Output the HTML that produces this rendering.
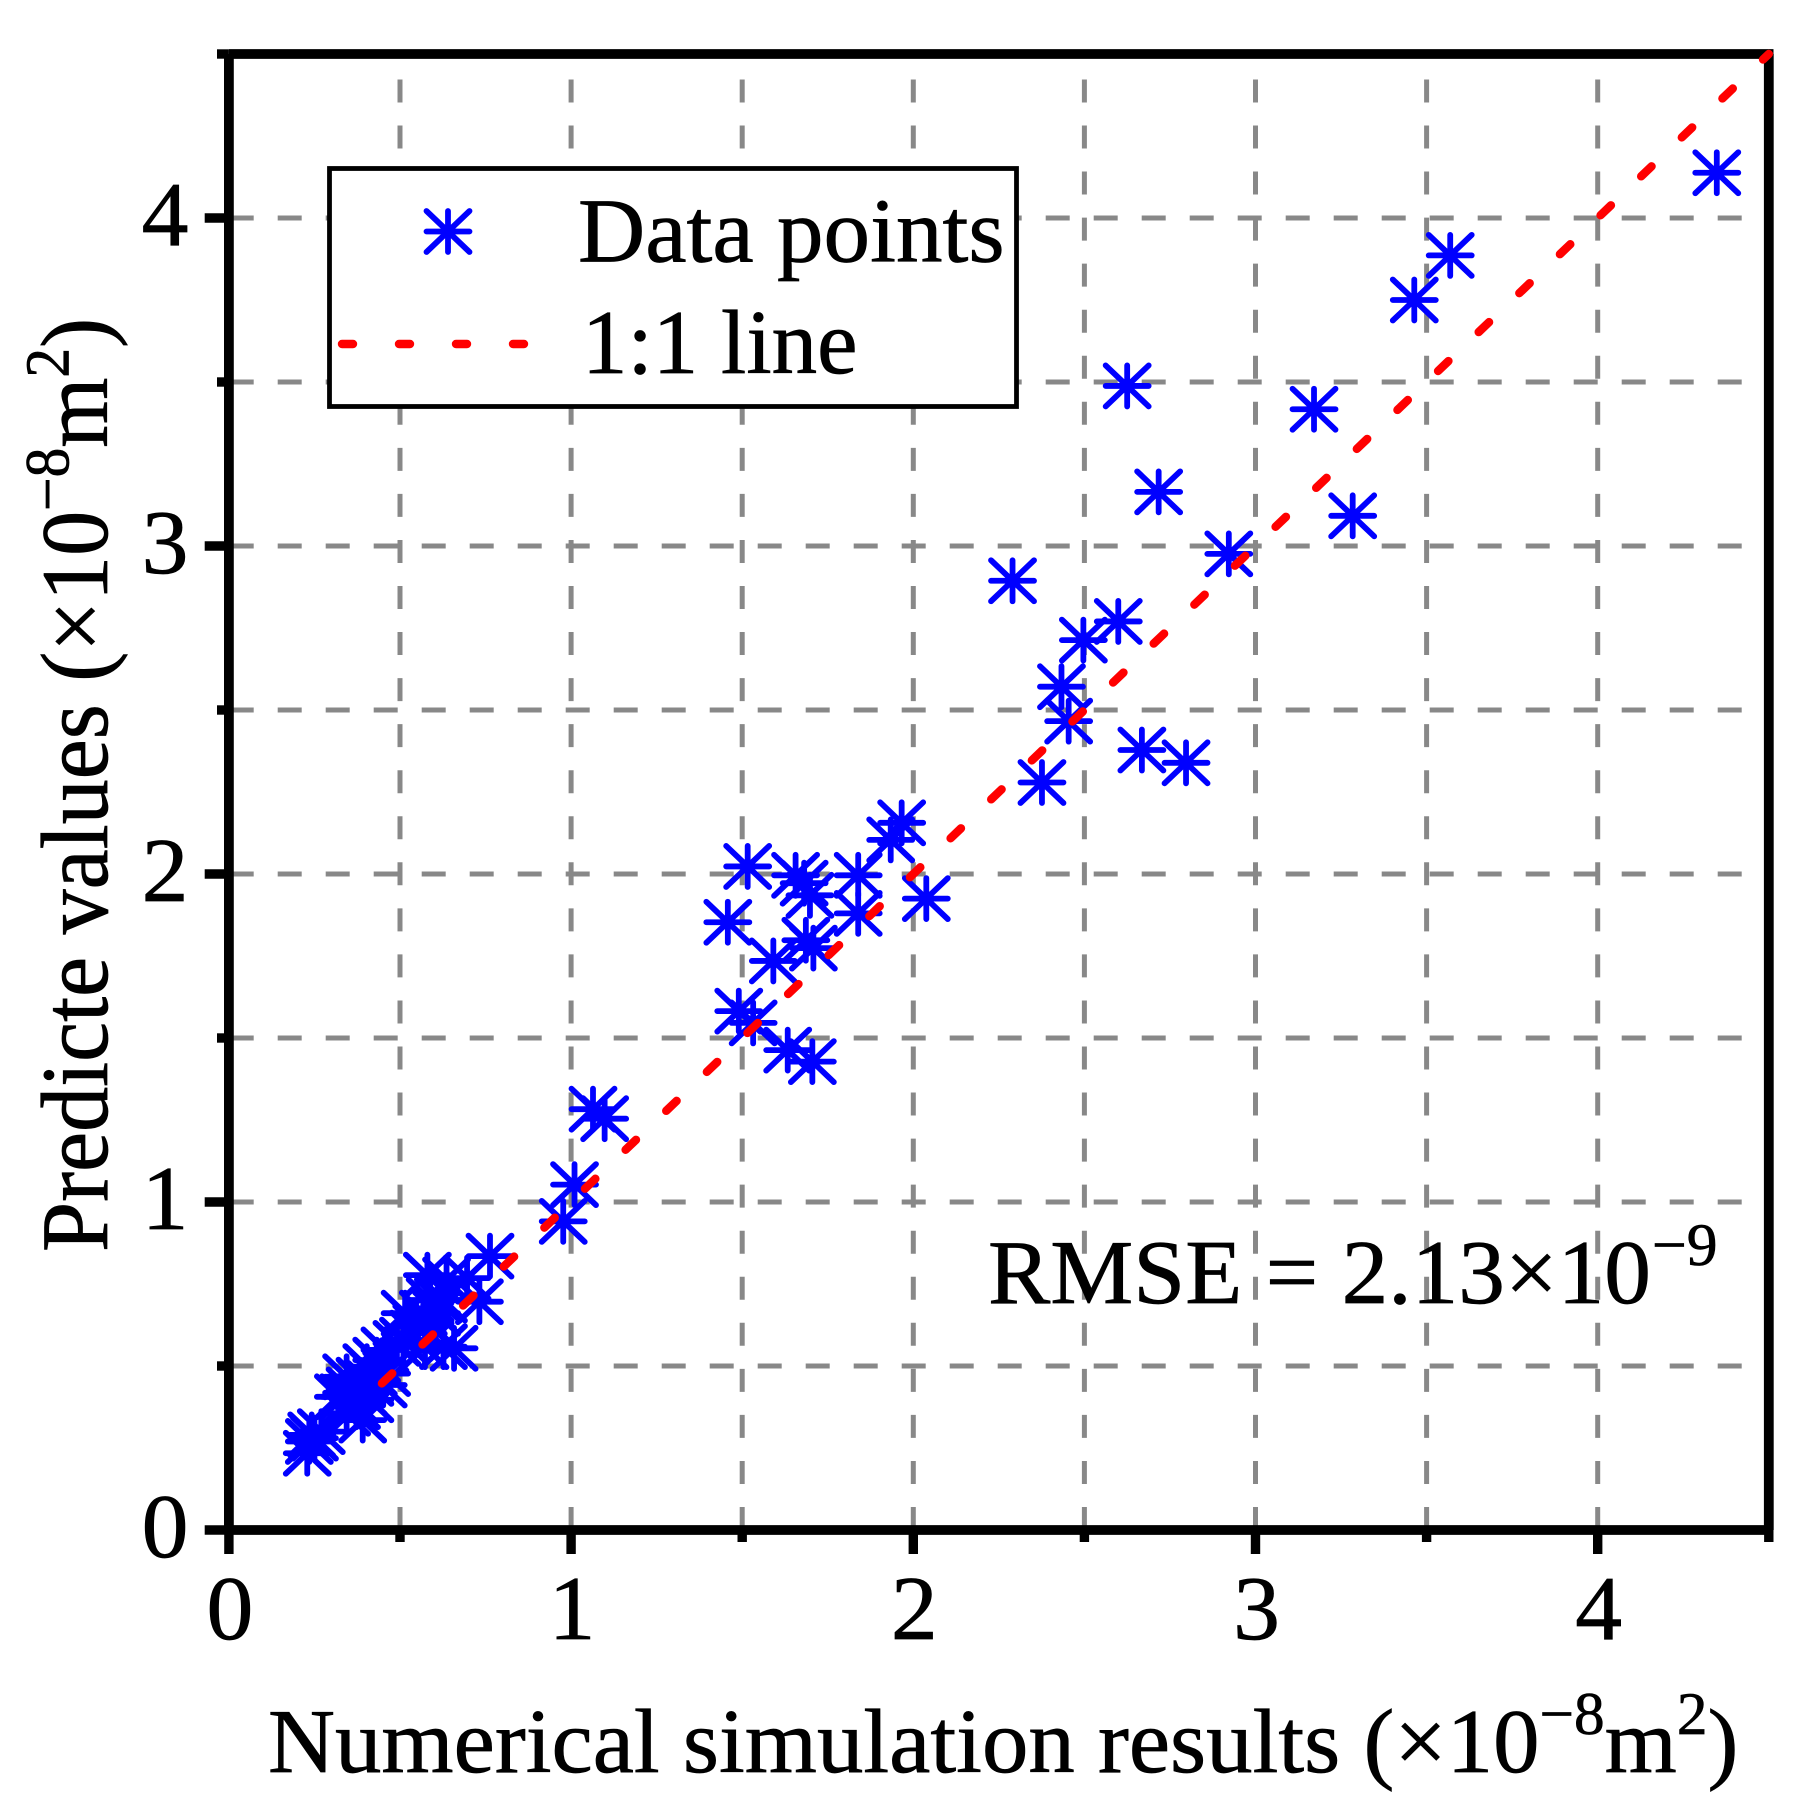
<!DOCTYPE html>
<html lang="en">
<head>
<meta charset="utf-8">
<title>Predicted values vs numerical simulation results</title>
<style>
html,body{margin:0;padding:0;background:#fff;}
svg{display:block;}
text{font-family:"Liberation Serif",serif;fill:#000;stroke:#000;stroke-width:0.7px;}
</style>
</head>
<body>
<svg id="chart" xmlns="http://www.w3.org/2000/svg" width="1818" height="1818" viewBox="0 0 1818 1818">
<rect x="0" y="0" width="1818" height="1818" fill="#fff"/>
<g id="grid"></g>
<g id="axes"></g>
<g id="points"></g>
<g id="fitline"></g>
<g id="labels"></g>

<text transform="translate(268,1772) scale(1.02,1)" font-size="91">Numerical simulation results (×10<tspan font-size="60" dy="-38">−8</tspan><tspan dy="38">m</tspan><tspan font-size="60" dy="-38">2</tspan><tspan dy="38">)</tspan></text>
<text transform="translate(107,1252) rotate(-90) scale(0.99,1.045)" font-size="91">Predicte values (×10<tspan font-size="60" dy="-37">−8</tspan><tspan dy="37">m</tspan><tspan font-size="60" dy="-37">2</tspan><tspan dy="37">)</tspan></text>
<text transform="translate(988,1303) scale(1.026,1)" font-size="91">RMSE = 2.13×10<tspan font-size="60" dy="-38" dx="1">−9</tspan></text>

<g>
  <rect x="329.5" y="168.5" width="687" height="238" fill="#fff" stroke="#000" stroke-width="4.8"/>
  <path transform="translate(448,231.5)" d="M-21.5 0H21.5M0 -20.5V20.5M-21.5 -20.5L21.5 20.5M-21.5 20.5L21.5 -20.5" fill="none" stroke="#0000ff" stroke-width="5.8" stroke-linecap="round"/>
  <text transform="translate(578,261.5) scale(1.023,1)" font-size="91">Data points</text>
  <line x1="342" y1="344" x2="526" y2="344" stroke="#ff0000" stroke-width="8.4" stroke-linecap="round" stroke-dasharray="11 46"/>
  <text transform="translate(582,373) scale(1.0,1)" font-size="91">1:1 line</text>
</g>
</svg>
<script>
var xTickMajor = [0, 1, 2, 3, 4];
var xTickMinor = [0.5, 1.5, 2.5, 3.5, 4.5];
var yTickMajor = [0, 1, 2, 3, 4];
var yTickMinor = [0.5, 1.5, 2.5, 3.5, 4.5];
var xTickLabels = ["0", "1", "2", "3", "4"];
var yTickLabels = ["0", "1", "2", "3", "4"];
var gridValuesX = [0.5, 1, 1.5, 2, 2.5, 3, 3.5, 4];
var gridValuesY = [0.5, 1, 1.5, 2, 2.5, 3, 3.5, 4];
var lineX = [0.447, 4.5];
var lineY = [0.447, 4.5];
var pointsX = [4.348,3.569,3.464,2.625,3.171,2.717,3.284,2.922,2.29,2.599,2.497,2.433,2.454,2.668,2.797,2.376,
  1.966,1.934,1.516,1.656,1.681,1.698,1.839,1.839,2.038,1.458,1.591,1.686,1.708,1.49,1.532,1.633,1.705,
  1.064,1.098,1.01,0.977,0.763,0.732,0.696,0.636,0.58,0.612,0.658,0.573,0.627,
  0.515,0.549,0.588,0.539,0.568,0.491,0.51,0.607,0.588,0.627,
  0.456,0.451,0.461,0.344,0.32,0.391,0.373,0.344,0.412,0.393,0.364,0.422,0.432,0.403,0.383,0.335,0.412,0.354,
  0.229,0.242,0.235,0.25,0.27];
var pointsY = [4.138,3.886,3.75,3.488,3.417,3.165,3.092,2.976,2.894,2.77,2.713,2.571,2.466,2.378,2.339,2.279,
  2.156,2.104,2.023,1.996,1.972,1.935,1.996,1.88,1.925,1.853,1.735,1.798,1.774,1.582,1.546,1.463,1.428,
  1.283,1.254,1.053,0.941,0.835,0.696,0.768,0.762,0.777,0.701,0.554,0.559,0.559,
  0.661,0.62,0.63,0.6,0.661,0.569,0.579,0.661,0.701,0.701,
  0.549,0.442,0.477,0.467,0.406,0.335,0.376,0.356,0.447,0.417,0.397,0.478,0.518,0.498,0.457,0.406,0.397,0.427,
  0.234,0.29,0.27,0.28,0.3];

var SVG_NS = "http://www.w3.org/2000/svg";
function sx(v) { return 228.9 + v * 342.2; }
function sy(v) { return 1530 - v * 328; }
function make(parent, tag, attrs) {
  var el = document.createElementNS(SVG_NS, tag);
  for (var k in attrs) { el.setAttribute(k, attrs[k]); }
  parent.appendChild(el);
  return el;
}
var gridG = document.getElementById("grid");
var axesG = document.getElementById("axes");
var pointsG = document.getElementById("points");
var lineG = document.getElementById("fitline");
var labelsG = document.getElementById("labels");

gridValuesY.forEach(function (v) {
  var el = make(gridG, "line", {x1: sx(0) + 0.8, y1: sy(v), x2: sx(4.5) - 4, y2: sy(v), stroke: "#888888", "stroke-width": 5, "stroke-dasharray": "24 24"});
  
  
});
gridValuesX.forEach(function (v) {
  var el = make(gridG, "line", {x1: sx(v), y1: sy(0), x2: sx(v), y2: sy(4.5) + 4, stroke: "#888888", "stroke-width": 5, "stroke-dasharray": "23 23.05"});
  
  
});

var spineL = make(axesG, "line", {x1: sx(0), y1: sy(4.5), x2: sx(0), y2: sy(0), stroke: "#000", "stroke-width": 9.8});


var spineB = make(axesG, "line", {x1: sx(0), y1: sy(0), x2: sx(4.5), y2: sy(0), stroke: "#000", "stroke-width": 9.8});


var spineT = make(axesG, "line", {x1: sx(0), y1: sy(4.5), x2: sx(4.5) + 4.7, y2: sy(4.5), stroke: "#000", "stroke-width": 9.8});


var spineR = make(axesG, "line", {x1: sx(4.5), y1: sy(4.5), x2: sx(4.5), y2: sy(0), stroke: "#000", "stroke-width": 9.8});



xTickMajor.forEach(function (v) {
  var el = make(axesG, "line", {x1: sx(v), y1: sy(0), x2: sx(v), y2: 1554, stroke: "#000", "stroke-width": 9.4});
  
  
});
xTickMinor.forEach(function (v) {
  var el = make(axesG, "line", {x1: sx(v), y1: sy(0), x2: sx(v), y2: 1542, stroke: "#000", "stroke-width": 9.4});
  
  
});
yTickMajor.forEach(function (v) {
  var el = make(axesG, "line", {x1: sx(0), y1: sy(v), x2: 204.7, y2: sy(v), stroke: "#000", "stroke-width": 9.4});
  
  
});
yTickMinor.forEach(function (v) {
  var el = make(axesG, "line", {x1: sx(0), y1: sy(v), x2: 217, y2: sy(v), stroke: "#000", "stroke-width": 9.4});
  
  
});

pointsX.forEach(function (v, i) {
  var el = make(pointsG, "path", {
    transform: "translate(" + sx(v) + "," + sy(pointsY[i]) + ")",
    d: "M-21.5 0H21.5M0 -20.5V20.5M-21.5 -20.5L21.5 20.5M-21.5 20.5L21.5 -20.5",
    fill: "none", stroke: "#0000ff", "stroke-width": 5.8, "stroke-linecap": "round"
  });
  
  
});

var fit = make(lineG, "line", {x1: sx(lineX[0]), y1: sy(lineY[0]), x2: sx(lineX[1]), y2: sy(lineY[1]), stroke: "#ff0000", "stroke-width": 8.4, "stroke-linecap": "round", "stroke-dasharray": "14.4 41.87"});



xTickMajor.forEach(function (v, i) {
  var el = make(labelsG, "text", {transform: "translate(" + (sx(v) + 1) + ",1639) scale(1.03,1)", "font-size": 91, "text-anchor": "middle"});
  
  
  el.textContent = xTickLabels[i];
});
yTickMajor.forEach(function (v, i) {
  var el = make(labelsG, "text", {transform: "translate(165," + (sy(v) + 27) + ") scale(1.03,1)", "font-size": 91, "text-anchor": "middle"});
  
  
  el.textContent = yTickLabels[i];
});
</script>
</body>
</html>
